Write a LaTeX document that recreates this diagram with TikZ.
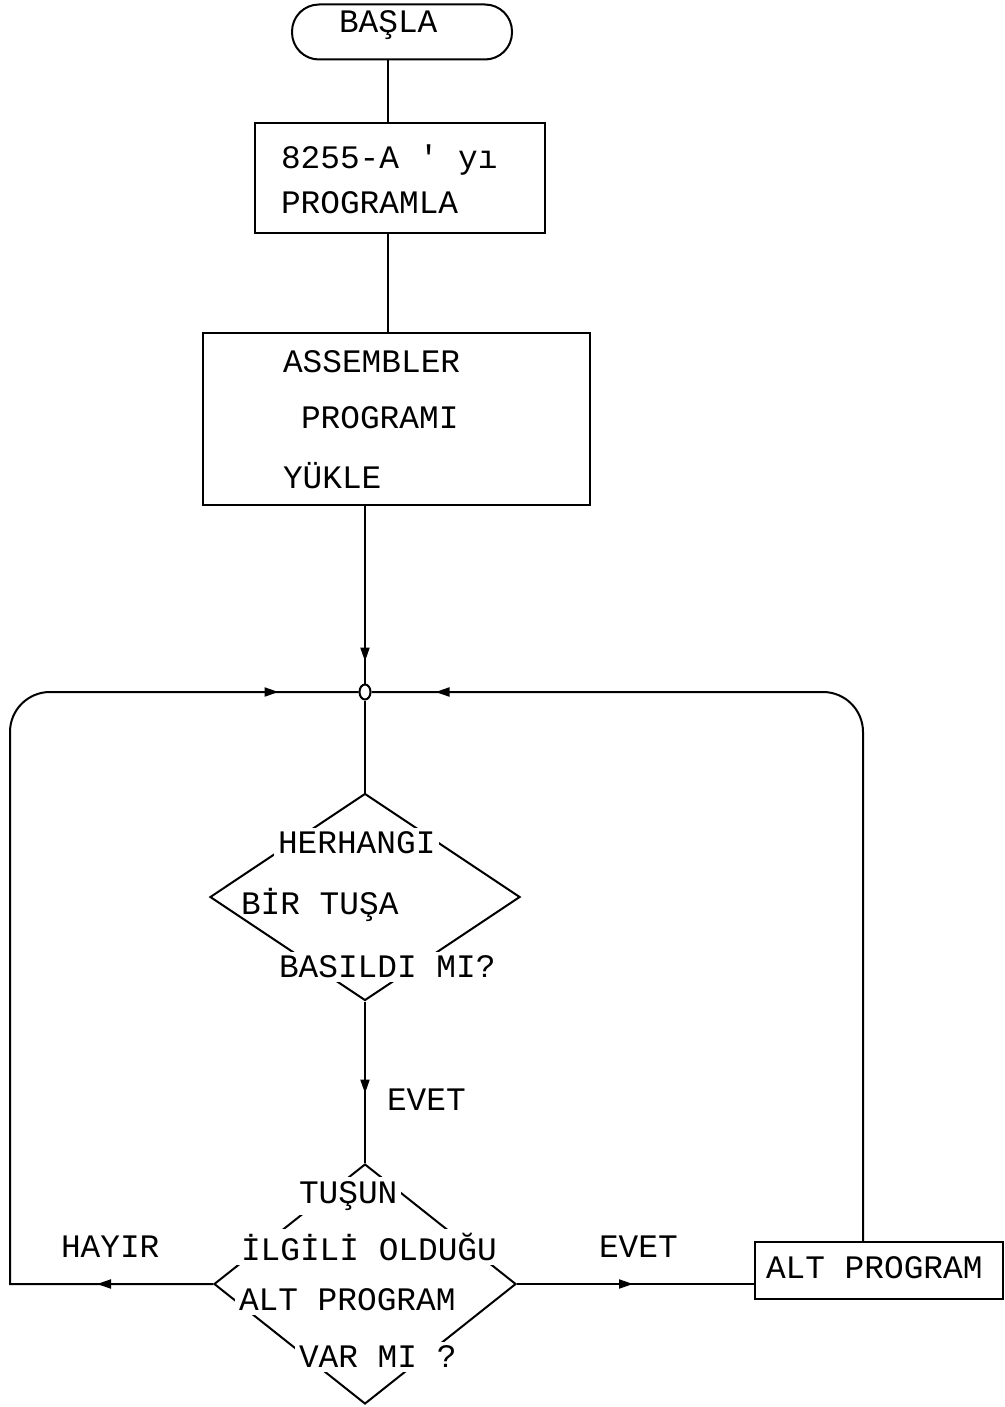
\documentclass[tikz,border=0pt]{standalone}
\usepackage{fontspec}
\setmainfont{Liberation Mono}[Ligatures=TeXOff]
\usetikzlibrary{shapes.geometric,arrows.meta,decorations.markings}
\begin{document}
\begin{tikzpicture}[x=0.5pt,y=-0.5pt,line width=1pt,
  txt/.style={font=\fontsize{16.4}{19}\selectfont,inner sep=1pt,anchor=west},
  gtxt/.style={txt,fill=white,inner sep=2pt},
  boxnode/.style={draw,inner sep=0pt},
  arrowsat/.style={postaction={decorate,decoration={markings,
     mark=at position #1 with {\arrow{Triangle[length=7pt,width=4.5pt]}}}}}]
\useasboundingbox (0,0) rectangle (1005,1407);

% shapes
\node[boxnode,rounded corners=13.5pt,minimum width=110pt,minimum height=27.5pt] (start) at (402,32) {};
\node[boxnode,minimum width=145pt,minimum height=55pt] (prog) at (400,178) {};
\node[boxnode,minimum width=193.5pt,minimum height=86pt] (asm) at (396.5,419) {};
\node[draw,ellipse,inner sep=0pt,minimum width=5.5pt,minimum height=7.5pt] (junc) at (365,692) {};
\node[draw,diamond,inner sep=0pt,minimum width=155pt,minimum height=103.5pt] (d1) at (365,897) {};
\node[draw,diamond,inner sep=0pt,minimum width=151pt,minimum height=120pt] (d2) at (365,1284) {};
\node[boxnode,minimum width=124pt,minimum height=28.5pt] (alt) at (879,1270.5) {};
\coordinate (lt) at (10,692);
\coordinate (rt) at (863,692);

% texts
\node[txt] (t0) at (336,25) {BAŞLA};
\node[txt] (t1) at (278,160) {8255-A ' yı};
\node[txt] (t2) at (278,203) {PROGRAMLA};
\node[txt] (t3) at (280,362) {ASSEMBLER};
\node[txt] (t4) at (298,418) {PROGRAMI};
\node[txt] (t5) at (280,476) {YÜKLE};
\node[gtxt] (g1) at (273,843) {HERHANGI};
\node[txt] (g2) at (238,905) {BİR TUŞA};
\node[gtxt] (g3) at (274,967) {BASILDI MI?};
\node[txt] (e1) at (384,1100) {EVET};
\node[gtxt] (g4) at (294,1196) {TUŞUN};
\node[gtxt] (g5) at (236,1247) {İLGİLİ OLDUĞU};
\node[gtxt] (g6) at (234,1300) {ALT PROGRAM};
\node[gtxt] (g7) at (294,1357) {VAR MI ?};
\node[txt] (hy) at (58,1247) {HAYIR};
\node[txt] (e2) at (596,1247) {EVET};
\node[txt] (at) at (763,1268) {ALT PROGRAM};

% connectors
\draw ([xshift=-7pt]start.south) -- ([xshift=-7pt]start.south |- prog.north);
\draw ([xshift=-6pt]prog.south) -- ([xshift=-6pt]prog.south |- asm.north);
\draw[arrowsat=-11pt] (asm.south -| junc) -- (junc.north);
\draw (junc.south) -- (d1.north);
\draw[arrowsat=46pt] (d1.south) -- (d2.north);
\draw[arrowsat=58pt] (d2.east) -- (d2.east -| alt.west);
\draw[arrowsat=58pt,arrowsat=-40pt] (d2.west) -- (d2.west -| lt) -- ([yshift=-20pt]lt)
   arc[start angle=180,end angle=90,radius=20pt] -- (junc.west);
\draw[arrowsat=-32pt] ([xshift=-8pt]alt.north) -- ([yshift=-20pt]rt)
   arc[start angle=0,end angle=90,radius=20pt] -- (junc.east);
\end{tikzpicture}
\end{document}
